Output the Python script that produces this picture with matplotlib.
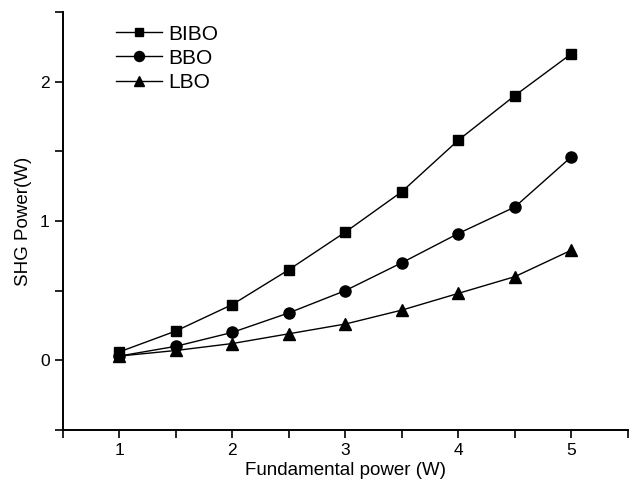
import matplotlib
matplotlib.use("Agg")
import matplotlib.pyplot as plt
from matplotlib.ticker import MultipleLocator

plt.rcParams["font.family"] = ["Liberation Sans", "DejaVu Sans"]

power = [1.0, 1.5, 2.0, 2.5, 3.0, 3.5, 4.0, 4.5, 5.0]
bibo = [0.06, 0.21, 0.40, 0.65, 0.92, 1.21, 1.58, 1.90, 2.20]
bbo = [0.03, 0.10, 0.20, 0.34, 0.50, 0.70, 0.91, 1.10, 1.46]
lbo = [0.03, 0.07, 0.12, 0.19, 0.26, 0.36, 0.48, 0.60, 0.79]

fig = plt.figure(figsize=(6.29, 4.83), dpi=100)
ax = fig.add_axes([0.100, 0.110, 0.898, 0.865])

ax.plot(power, bibo, "k-", marker="s", markersize=7, linewidth=1.0, label="BIBO")
ax.plot(power, bbo, "k-", marker="o", markersize=8, linewidth=1.0, label="BBO")
ax.plot(power, lbo, "k-", marker="^", markersize=8, linewidth=1.0, label="LBO")

ax.set_xlim(0.5, 5.5)
ax.set_ylim(-0.5, 2.5)
ax.xaxis.set_major_locator(MultipleLocator(1))
ax.xaxis.set_minor_locator(MultipleLocator(0.5))
ax.yaxis.set_major_locator(MultipleLocator(1))
ax.yaxis.set_minor_locator(MultipleLocator(0.5))
ax.tick_params(which="both", direction="out", width=1.2, labelsize=12.5, length=6)

for side in ("top", "right"):
    ax.spines[side].set_visible(False)
for side in ("left", "bottom"):
    ax.spines[side].set_linewidth(1.4)

ax.set_xlabel("Fundamental power (W)", fontsize=13.5, labelpad=3)
ax.set_ylabel("SHG Power(W)", fontsize=13.5, labelpad=6)

ax.legend(loc="upper left", bbox_to_anchor=(0.061, 1.015), frameon=False,
          fontsize=15, handlelength=2.2, labelspacing=0.25, handletextpad=0.3,
          markerscale=0.9)

fig.savefig("out.png", dpi=100)
